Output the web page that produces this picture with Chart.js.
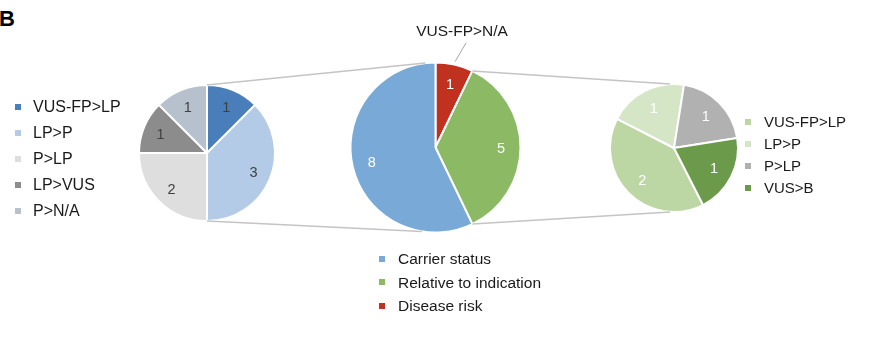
<!DOCTYPE html>
<html>
<head>
<meta charset="utf-8">
<script src="https://cdn.jsdelivr.net/npm/chart.js@4.4.1/dist/chart.umd.min.js"></script>
<style>
  html, body { margin: 0; padding: 0; background: #fff; }
  #wrap { position: relative; width: 870px; height: 338px; overflow: hidden;
          font-family: "Liberation Sans", Arial, sans-serif; color: #1a1a1a; }
  #wrap canvas { position: absolute; left: 0; top: 0; }
  .panel { position: absolute; left: -1px; top: 8px; font-size: 22px; line-height: 22px;
           font-weight: bold; color: #000; }
  .legend { position: absolute; margin: 0; padding: 0; list-style: none; }
  .legend li { position: relative; white-space: nowrap; }
  .legend li .box { position: absolute; left: 0; top: calc(50% - 3px); width: 6px; height: 6px; }
  #legLeft { left: 15px; top: 94px; font-size: 16px; }
  #legLeft li { height: 26px; line-height: 26px; padding-left: 18px; }
  #legMain { left: 379px; top: 247px; font-size: 15.5px; }
  #legMain li { height: 23.5px; line-height: 23.5px; padding-left: 19px; }
  #legRight { left: 745px; top: 111px; font-size: 15px; }
  #legRight li { height: 22px; line-height: 22px; padding-left: 19px; }
</style>
</head>
<body>
<div id="wrap">
  <div class="panel">B</div>
  <canvas id="pieLeft" width="870" height="338"></canvas>
  <canvas id="pieMain" width="870" height="338"></canvas>
  <canvas id="pieRight" width="870" height="338"></canvas>
  <canvas id="links" width="870" height="338"></canvas>
  <ul class="legend" id="legLeft"></ul>
  <ul class="legend" id="legMain"></ul>
  <ul class="legend" id="legRight"></ul>
</div>
<script>
// dados
const leftLabels = ['VUS-FP>LP', 'LP>P', 'P>LP', 'LP>VUS', 'P>N/A'];
const leftValues = [1, 3, 2, 1, 1];
const mainLabels = ['Disease risk', 'Relative to indication', 'Carrier status'];
const mainValues = [1, 5, 8];
const rightLabels = ['VUS-FP>LP', 'LP>P', 'P>LP', 'VUS>B'];
const rightValues = [2, 1, 1, 1];
const calloutLabel = 'VUS-FP>N/A';

const FONT = '"Liberation Sans", Arial, sans-serif';
Chart.defaults.font.family = FONT;

// numeros dentro das fatias
const sliceLabels = {
  id: 'sliceLabels',
  afterDatasetsDraw(chart, args, opts) {
    const ctx = chart.ctx;
    const values = chart.data.datasets[0].data;
    ctx.save();
    ctx.font = opts.size + 'px ' + FONT;
    ctx.fillStyle = opts.color;
    ctx.textAlign = 'center';
    ctx.textBaseline = 'middle';
    chart.getDatasetMeta(0).data.forEach((arc, i) => {
      const mid = (arc.startAngle + arc.endAngle) / 2;
      const r = arc.outerRadius * opts.pos;
      ctx.fillText(values[i], arc.x + Math.cos(mid) * r, arc.y + Math.sin(mid) * r + 1);
    });
    ctx.restore();
  }
};

// legenda em html
const htmlLegend = {
  id: 'htmlLegend',
  afterUpdate(chart, args, opts) {
    const ul = document.getElementById(opts.containerID);
    ul.innerHTML = '';
    let items = chart.options.plugins.legend.labels.generateLabels(chart);
    if (opts.reverse) items = items.reverse();
    items.forEach(item => {
      const li = document.createElement('li');
      const box = document.createElement('span');
      box.className = 'box';
      box.style.background = item.fillStyle;
      li.appendChild(box);
      li.appendChild(document.createTextNode(item.text));
      ul.appendChild(li);
    });
  }
};

function pieConfig(labels, values, colors, opts) {
  return {
    type: 'pie',
    data: {
      labels: labels,
      datasets: [{
        data: values,
        backgroundColor: colors,
        borderColor: '#ffffff',
        borderWidth: 2,
        hoverOffset: 0
      }]
    },
    options: {
      responsive: false,
      animation: false,
      events: [],
      radius: opts.radius,
      rotation: opts.rotation || 0,
      layout: { padding: opts.padding },
      plugins: {
        legend: { display: false },
        tooltip: { enabled: false },
        sliceLabels: opts.labels,
        htmlLegend: { containerID: opts.legend, reverse: !!opts.reverse }
      }
    },
    plugins: [sliceLabels, htmlLegend]
  };
}

const chartLeft = new Chart(document.getElementById('pieLeft'), pieConfig(
  leftLabels, leftValues,
  ['#4a7ebb', '#b3cbe7', '#dedede', '#8c8c8c', '#b7c1cd'],
  { radius: 68, padding: { left: 139, right: 595, top: 85, bottom: 117 },
    labels: { color: '#404040', size: 14.5, pos: 0.74 }, legend: 'legLeft' }
));

const chartMain = new Chart(document.getElementById('pieMain'), pieConfig(
  mainLabels, mainValues,
  ['#c0321f', '#8cb963', '#79a9d6'],
  { radius: 85, padding: { left: 350, right: 349, top: 62, bottom: 105 },
    labels: { color: '#ffffff', size: 14.5, pos: 0.77 }, legend: 'legMain', reverse: true }
));

const chartRight = new Chart(document.getElementById('pieRight'), pieConfig(
  rightLabels, rightValues,
  ['#bcd7a3', '#d4e6c6', '#b1b1b1', '#6b9a4b'],
  { radius: 64, rotation: 153, padding: { left: 610, right: 132, top: 84, bottom: 126 },
    labels: { color: '#ffffff', size: 14.5, pos: 0.7 }, legend: 'legRight' }
));

// linhas de ligacao entre as pizzas
function edge(chart, angle) {
  const arc = chart.getDatasetMeta(0).data[0];
  return [arc.x + Math.cos(angle) * arc.outerRadius, arc.y + Math.sin(angle) * arc.outerRadius];
}

function drawLinks() {
  const ctx = document.getElementById('links').getContext('2d');
  const arcs = chartMain.getDatasetMeta(0).data;
  const top = -Math.PI / 2, bottom = Math.PI / 2;
  const segs = [
    [edge(chartLeft, top), edge(chartMain, top - 0.12)],
    [edge(chartLeft, bottom), edge(chartMain, bottom + 0.16)],
    [edge(chartMain, arcs[1].startAngle), edge(chartRight, top - 0.06)],
    [edge(chartMain, arcs[1].endAngle), edge(chartRight, bottom + 0.06)]
  ];
  ctx.strokeStyle = '#c4c4c4';
  ctx.lineWidth = 1.5;
  segs.forEach(s => {
    ctx.beginPath();
    ctx.moveTo(s[0][0], s[0][1]);
    ctx.lineTo(s[1][0], s[1][1]);
    ctx.stroke();
  });

  // rotulo da fatia vermelha
  const red = arcs[0];
  const mid = (red.startAngle + red.endAngle) / 2;
  const p = [red.x + Math.cos(mid) * (red.outerRadius + 3), red.y + Math.sin(mid) * (red.outerRadius + 3)];
  ctx.strokeStyle = '#a6a6a6';
  ctx.lineWidth = 1;
  ctx.beginPath();
  ctx.moveTo(p[0], p[1]);
  ctx.lineTo(p[0] + 11, p[1] - 19);
  ctx.stroke();
  ctx.font = '15.5px ' + FONT;
  ctx.fillStyle = '#1a1a1a';
  ctx.textAlign = 'center';
  ctx.textBaseline = 'middle';
  ctx.fillText(calloutLabel, p[0] + 7, p[1] - 30);
}

drawLinks();
</script>
</body>
</html>
